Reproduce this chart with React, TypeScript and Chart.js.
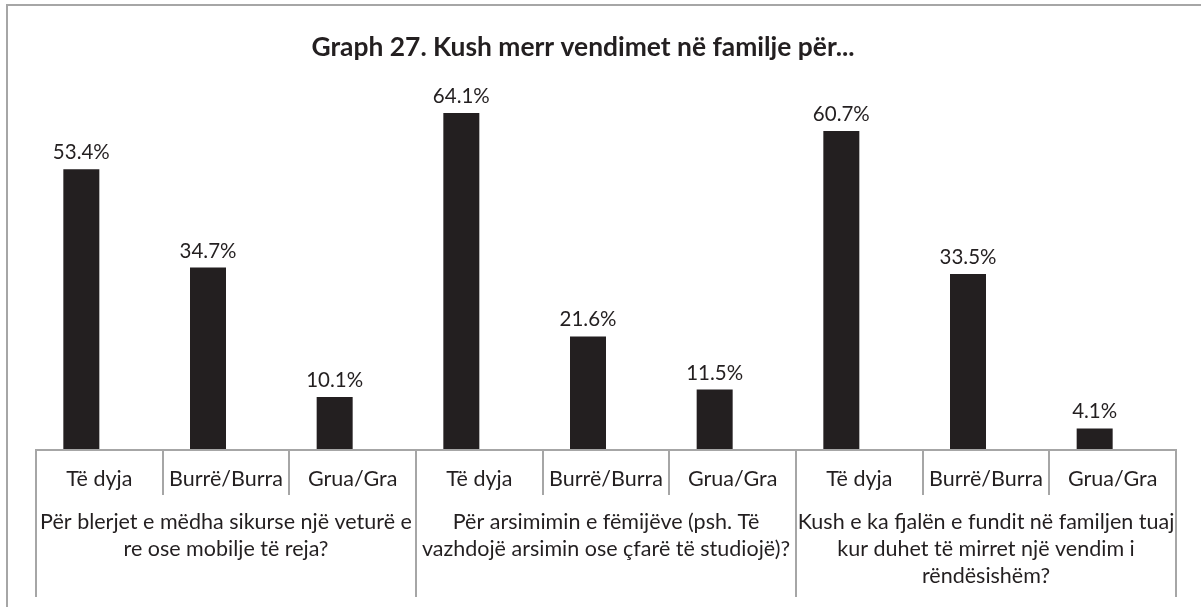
import React, { useEffect, useRef } from "react";
import { Chart, registerables } from "chart.js";

Chart.register(...registerables);

const title = "Graph 27. Kush merr vendimet në familje për...";
const categories = [
  "Të dyja", "Burrë/Burra", "Grua/Gra",
  "Të dyja", "Burrë/Burra", "Grua/Gra",
  "Të dyja", "Burrë/Burra", "Grua/Gra",
];
const groupLabels: string[][] = [
  ["Për blerjet e mëdha sikurse një veturë e", "re ose mobilje të reja?"],
  ["Për arsimimin e fëmijëve (psh. Të", "vazhdojë arsimin ose çfarë të studiojë)?"],
  ["Kush e ka fjalën e fundit në familjen tuaj", "kur duhet të mirret një vendim i", "rëndësishëm?"],
];
const groupSize = 3;
const values = [53.4, 34.7, 10.1, 64.1, 21.6, 11.5, 60.7, 33.5, 4.1];
const emptySeries = values.map(() => null);
const yMax = 70;

const FONT = "Lato, 'Noto Sans', sans-serif";
const TEXT = "#231f20";
const LINE = "#a6a6a6";

const framePlugin = {
  id: "frame",
  beforeDraw(chart: any) {
    const ctx = chart.ctx;
    ctx.save();
    ctx.fillStyle = "#ffffff";
    ctx.fillRect(0, 0, chart.width, chart.height);
    ctx.strokeStyle = LINE;
    ctx.lineWidth = 2;
    ctx.strokeRect(7, 5, chart.width + 50, chart.height + 50);
    ctx.fillStyle = TEXT;
    ctx.font = `bold 26.4px ${FONT}`;
    ctx.textAlign = "center";
    ctx.textBaseline = "middle";
    ctx.fillText(title, 583, 47);
    ctx.restore();
  },
};

const labelPlugin = {
  id: "valueLabels",
  afterDatasetsDraw(chart: any) {
    const ctx = chart.ctx;
    const meta = chart.getDatasetMeta(0);
    ctx.save();
    ctx.fillStyle = TEXT;
    ctx.font = `20.5px ${FONT}`;
    ctx.textAlign = "center";
    ctx.textBaseline = "alphabetic";
    meta.data.forEach((bar: any, i: number) => {
      ctx.fillText(values[i].toFixed(1) + "%", bar.x, bar.y - 10);
    });
    ctx.restore();
  },
};

const axisPlugin = {
  id: "multiAxis",
  afterDraw(chart: any) {
    const ctx = chart.ctx;
    const x = chart.scales.x;
    const area = chart.chartArea;
    const step = x.getPixelForValue(1) - x.getPixelForValue(0);
    const edge = (i: number) => x.getPixelForValue(0) - step / 2 + i * step;
    const bottom = area.bottom;
    ctx.save();
    ctx.strokeStyle = LINE;
    ctx.lineWidth = 2;
    ctx.beginPath();
    ctx.moveTo(edge(0) - 1, bottom);
    ctx.lineTo(edge(categories.length) + 1, bottom);
    for (let i = 0; i <= categories.length; i++) {
      const px = Math.round(edge(i));
      ctx.moveTo(px, bottom);
      ctx.lineTo(px, bottom + (i % groupSize === 0 ? 147 : 45));
    }
    ctx.stroke();

    ctx.fillStyle = TEXT;
    ctx.font = `21.5px ${FONT}`;
    ctx.textAlign = "center";
    ctx.textBaseline = "middle";
    categories.forEach((c, i) => {
      ctx.fillText(c, x.getPixelForValue(i), bottom + 29);
    });
    ctx.font = `21.5px ${FONT}`;
    groupLabels.forEach((lines, g) => {
      const cx = (edge(g * groupSize) + edge((g + 1) * groupSize)) / 2;
      lines.forEach((ln, k) => {
        ctx.fillText(ln, cx, bottom + 72 + k * 27);
      });
    });
    ctx.restore();
  },
};

export default function App() {
  const ref = useRef<HTMLCanvasElement | null>(null);
  useEffect(() => {
    if (!ref.current) return;
    const chart = new Chart(ref.current, {
      type: "bar",
      data: {
        labels: categories,
        datasets: [
          { data: values, backgroundColor: TEXT, categoryPercentage: 72 / 126.67, barPercentage: 1 },
          { data: emptySeries as any, backgroundColor: TEXT, categoryPercentage: 72 / 126.67, barPercentage: 1 },
        ],
      },
      options: {
        animation: false,
        responsive: false,
        layout: { padding: { top: 82, left: 36, right: 25, bottom: 190 } },
        plugins: {
          legend: { display: false },
          tooltip: { enabled: false },
          title: { display: false },
        },
        scales: {
          x: { display: false },
          y: { display: false, min: 0, max: yMax },
        },
      },
      plugins: [framePlugin, labelPlugin, axisPlugin],
    });
    return () => chart.destroy();
  }, []);
  return (
    <div style={{ position: "fixed", left: 0, top: 0, width: 1201, height: 607, overflow: "hidden", background: "#fff" }}>
      <canvas ref={ref} width={1201} height={640} style={{ display: "block" }} />
    </div>
  );
}
